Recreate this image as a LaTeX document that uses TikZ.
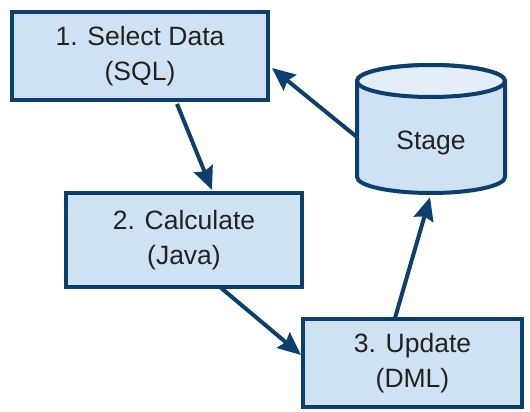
\documentclass[tikz,border=0pt]{standalone}
\usepackage{fontspec}
\setmainfont{Liberation Sans}
\usetikzlibrary{arrows.meta,calc}
\definecolor{bordc}{HTML}{0D3F6E}
\definecolor{fillc}{HTML}{CFE2F3}
\definecolor{topc}{HTML}{E3EEF9}
\definecolor{txtc}{HTML}{222222}
\begin{document}
\begin{tikzpicture}[x=1pt,y=-1pt,
  stepbox/.style={draw=bordc,fill=fillc,line width=4pt,minimum width=#1,inner sep=0pt,
    align=center,text=txtc,font=\fontsize{26.5}{35}\selectfont},
  conn/.style={draw=bordc,line width=4pt,-{Stealth[length=23pt,width=20pt,inset=3pt]}}]
\useasboundingbox (0,0) rectangle (530,412);
\node[stepbox=256pt,minimum height=88pt] (box1) at (140,56) {1. Select Data\\(SQL)};
\node[stepbox=236pt,minimum height=94pt] (box2) at (184,240) {2. Calculate\\(Java)};
\node[stepbox=219pt,minimum height=88pt] (box3) at (412.5,363) {3. Update\\(DML)};
% cylinder
\path[draw=bordc,fill=fillc,line width=4pt] (357,81) -- (357,177)
  arc[start angle=180,end angle=360,x radius=74pt,y radius=16pt] -- (505,81)
  arc[start angle=0,end angle=180,x radius=74pt,y radius=16pt] -- cycle;
\path[draw=bordc,fill=topc,line width=4pt] (431,81) ellipse[x radius=74pt,y radius=16pt];
\node[minimum width=148pt,minimum height=100pt,inner sep=0pt,text=txtc,
  font=\fontsize{26.5}{35}\selectfont] (stage) at (431,143) {Stage};
\draw[conn] ($(box1.south)+(37,2)$) -- ($(box2.north)+(28,-1)$);
\draw[conn] ($(box2.south)+(36,-2)$) -- ($(box3.west)+(0,-8)$);
\draw[conn] ($(box3.north)+(-17.5,1)$) -- ($(stage.south)+(-1,4)$);
\draw[conn] ($(stage.west)+(0,-6)$) -- ($(box1.east)+(2,12)$);
\end{tikzpicture}
\end{document}
